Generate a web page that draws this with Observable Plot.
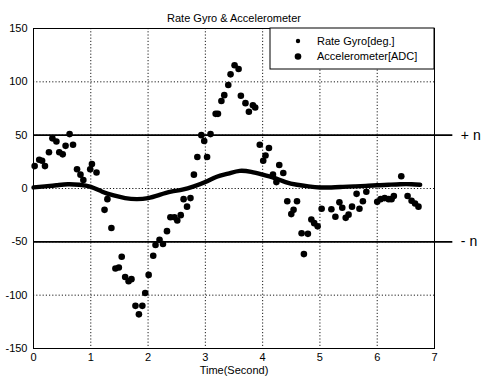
<!DOCTYPE html>
<html>
<head>
<meta charset="utf-8">
<script src="https://cdn.jsdelivr.net/npm/d3@7"></script>
<script src="https://cdn.jsdelivr.net/npm/@observablehq/plot@0.6"></script>
<style>
  html, body { margin: 0; padding: 0; background: #fff; }
  #chart { position: relative; width: 485px; height: 380px; }
  svg { font-family: "Liberation Sans", Arial, Helvetica, sans-serif; }
</style>
</head>
<body>
<div id="chart"></div>
<script>
// ---- data ----
const title = "Rate Gyro & Accelerometer";
const xLabel = "Time(Second)";
const seriesNames = ["Rate Gyro[deg.]", "Accelerometer[ADC]"];
const xTicks = [0, 1, 2, 3, 4, 5, 6, 7];
const yTicks = [-150, -100, -50, 0, 50, 100, 150];
const thresholds = [50, -50];
const thresholdLabels = ["+ n", "- n"];

// Rate gyro (dense smooth trace)
const gyroT = [0, 0.2, 0.4, 0.6, 0.8, 1.0, 1.2, 1.4, 1.6, 1.8, 2.0, 2.2, 2.4, 2.6, 2.8, 3.0, 3.2, 3.4, 3.6, 3.8, 4.0, 4.2, 4.4, 4.6, 4.8, 5.0, 5.2, 5.4, 5.6, 5.8, 6.0, 6.2, 6.4, 6.6, 6.75];
const gyroV = [1, 2, 3, 4, 3.5, 1.5, -3, -6.5, -9, -10, -9, -6, -3, -1, 2, 6, 11, 14, 16.5, 15.5, 13, 10, 6, 3.5, 2, 1, 1, 1.5, 2, 2.5, 3, 3.5, 4, 4, 3.5];

// Accelerometer (scattered big dots)
const accT = [0.02, 0.10, 0.15, 0.20, 0.27, 0.33, 0.40, 0.45, 0.51, 0.56, 0.63, 0.69, 0.76, 0.82, 0.87, 0.99, 1.02, 1.10, 1.24, 1.29, 1.36, 1.43, 1.49, 1.54, 1.60, 1.66, 1.71, 1.78, 1.84, 1.90, 1.95, 2.01, 2.09, 2.13, 2.20, 2.26, 2.33, 2.39, 2.46, 2.51, 2.57, 2.62, 2.68, 2.74, 2.80, 2.86, 2.93, 2.98, 3.03, 3.09, 3.18, 3.22, 3.28, 3.33, 3.40, 3.44, 3.51, 3.58, 3.62, 3.70, 3.76, 3.83, 3.87, 3.95, 4.01, 4.05, 4.11, 4.18, 4.24, 4.29, 4.36, 4.43, 4.50, 4.54, 4.60, 4.68, 4.72, 4.79, 4.85, 4.90, 4.96, 5.03, 5.20, 5.27, 5.34, 5.39, 5.45, 5.50, 5.56, 5.64, 5.69, 5.75, 5.81, 6.00, 6.06, 6.13, 6.20, 6.25, 6.29, 6.42, 6.53, 6.60, 6.66, 6.72];
const accV = [21, 27, 26, 21, 34, 47, 44, 34, 32, 40, 51, 41, 18, 13, 8, 18, 23, 15, -20, -10, -37, -75, -74, -64, -83, -87, -85, -110, -118, -110, -98, -81, -63, -53, -48, -52, -40, -27, -27, -30, -25, -10, -17, -9, 13, 29.5, 50, 44.5, 29.5, 51, 70, 70, 82, 87.5, 97, 107, 115.5, 112, 87, 80, 72, 78, 76, 41, 26, 31, 38, 13, 6, 22, 14.5, -12, -24, -20, -12, -42, -61.5, -42.5, -29, -32.5, -35.5, -19, -19.5, -26.5, -13, -18, -27.5, -24.5, -17, -5, -19, -12, -3, -12.5, -10, -9, -10, -10, -7, 11.5, -7, -11.5, -14, -17];

// ---- tables ----
const gyro = gyroT.map((t, i) => ({t, v: gyroV[i]}));
const acc = accT.map((t, i) => ({t, v: accV[i]}));
const thr = thresholds.map((v, i) => ({v, label: thresholdLabels[i]}));

const font = "'Liberation Sans', Arial, Helvetica, sans-serif";

const chart = Plot.plot({
  width: 485,
  height: 380,
  marginLeft: 33,
  marginRight: 51,
  marginTop: 28,
  marginBottom: 32,
  style: {fontFamily: font, background: "#fff", color: "#000"},
  x: {domain: [0, 7]},
  y: {domain: [-150, 150]},
  marks: [
    Plot.gridX(xTicks, {stroke: "#000", strokeOpacity: 1, strokeWidth: 0.9, strokeDasharray: "1.2,2"}),
    Plot.gridY(yTicks, {stroke: "#000", strokeOpacity: 1, strokeWidth: 0.9, strokeDasharray: "1.2,2"}),
    Plot.frame({stroke: "#000", strokeWidth: 1}),
    Plot.axisX(xTicks, {tickSize: 0, tickPadding: 5, fontSize: 11, label: null, tickFormat: d3.format("d")}),
    Plot.axisY(yTicks, {tickSize: 0, tickPadding: 6, fontSize: 11, label: null, tickFormat: d => String(d)}),
    Plot.ruleY(thr, {y: "v", x1: 0, x2: 7.32, stroke: "#000", strokeWidth: 1.6}),
    Plot.text(thr, {y: "v", x: 7.32, text: "label", textAnchor: "start", dx: 8, fontSize: 14}),
    Plot.line(gyro, {x: "t", y: "v", curve: "natural", stroke: "#000", strokeWidth: 4.4}),
    Plot.dot(acc, {x: "t", y: "v", r: 3.3, fill: "#000", stroke: "none"}),
    Plot.text([title], {frameAnchor: "top", dy: -14, fontSize: 11}),
    Plot.text([xLabel], {frameAnchor: "bottom", dy: 25, fontSize: 11})
  ]
});

document.getElementById("chart").appendChild(chart);

// legend box drawn into the same svg (top-right corner of the frame)
const svg = d3.select(chart);
const W = 485, mR = 51, mT = 28;
const right = W - mR, boxW = 164, boxH = 41;
const g = svg.append("g").attr("text-anchor", "start");
g.append("rect").attr("x", right - boxW).attr("y", mT).attr("width", boxW).attr("height", boxH)
  .attr("fill", "#fff").attr("stroke", "#000").attr("stroke-width", 1);
const rows = [{name: seriesNames[0], r: 2.2}, {name: seriesNames[1], r: 3.3}];
rows.forEach((row, i) => {
  const cy = mT + 13 + i * 15.5;
  g.append("circle").attr("cx", right - boxW + 28).attr("cy", cy).attr("r", row.r).attr("fill", "#000");
  g.append("text").attr("x", right - boxW + 47).attr("y", cy).attr("dy", "0.35em")
    .attr("text-anchor", "start")
    .attr("font-size", 11).attr("font-family", font).attr("fill", "#000").text(row.name);
});
</script>
</body>
</html>
